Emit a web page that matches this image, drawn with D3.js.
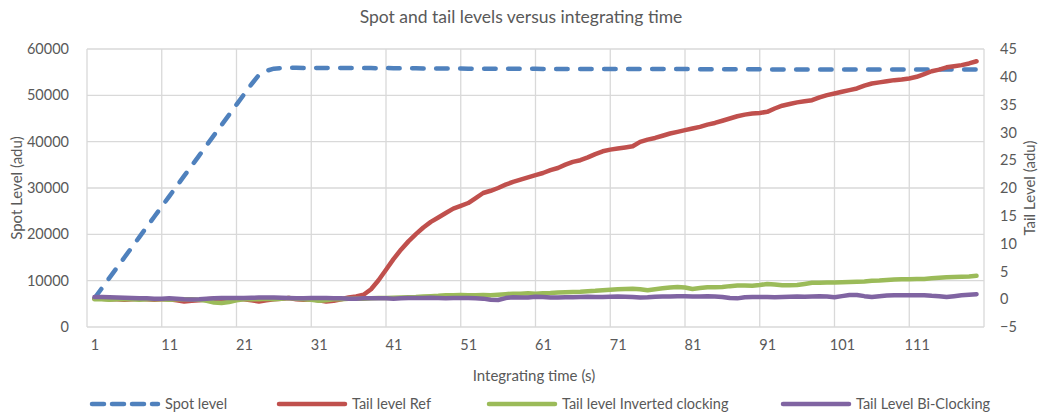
<!DOCTYPE html>
<html><head><meta charset="utf-8">
<script src="https://cdn.jsdelivr.net/npm/d3@7"></script>
<style>
html,body{margin:0;padding:0;background:#fff;}
svg text{font-family:Lato,"Open Sans",sans-serif;fill:#595959;}
</style></head>
<body><svg id="chart" width="1043" height="414"></svg>
<script>
// ---------- data ----------
const times = d3.range(1, 120); // categories 1..119 (s)
const xTickLabels = [1, 11, 21, 31, 41, 51, 61, 71, 81, 91, 101, 111];
const leftTicks = [0, 10000, 20000, 30000, 40000, 50000, 60000];
const rightTicks = [-5, 0, 5, 10, 15, 20, 25, 30, 35, 40, 45];

const spotLevel = [
  6200, 8400, 10600, 12800, 15000, 17200, 19400, 21600, 23800, 26000,
  28200, 30400, 32600, 34800, 37000, 39200, 41400, 43600, 45800, 48000,
  50200, 52400, 54400, 55300, 55750, 55900,
  55950, 55950, 55900, 55950, 55900, 55900, 55950, 55900, 55900, 55900, 55900, 55900,
  55850, 55900, 55850, 55850, 55850, 55850, 55800, 55800, 55800, 55800, 55800, 55800,
  55750, 55750, 55750, 55750, 55750, 55750, 55750, 55750, 55750, 55750,
  55700, 55700, 55700, 55700, 55700, 55700, 55700, 55700, 55700, 55700,
  55700, 55700, 55700, 55700, 55700, 55700, 55700, 55700, 55700, 55700,
  55650, 55650, 55650, 55650, 55650, 55650, 55650, 55650, 55650, 55650,
  55600, 55600, 55600, 55600, 55600, 55600, 55600, 55600, 55600, 55600,
  55600, 55600, 55600, 55600, 55600, 55600, 55600, 55600, 55600, 55600,
  55550, 55550, 55550, 55550, 55550, 55550, 55550, 55550, 55550
];
const tailRef = [
  0.1, 0.1, 0.0, 0.0, -0.1, 0.0, 0.1, 0.0, -0.1, 0.0,
  0.0, -0.2, -0.4, -0.3, -0.2, 0.0, 0.1, 0.0, 0.0, 0.1,
  0.0, -0.2, -0.4, -0.2, 0.0, 0.1, 0.2, 0.0, -0.1, 0.0,
  -0.2, -0.4, -0.3, 0.0, 0.3, 0.5,
  0.8, 1.8, 3.4, 5.3, 7.2, 8.9, 10.4, 11.7, 12.9, 13.9,
  14.7, 15.5, 16.3, 16.8, 17.3, 18.2, 19.1, 19.5, 20.0, 20.6,
  21.1, 21.5, 21.9, 22.3, 22.7, 23.2, 23.6, 24.2, 24.7, 25.0,
  25.5, 26.1, 26.6, 26.9, 27.1, 27.3, 27.5, 28.3, 28.7, 29.0,
  29.4, 29.8, 30.1, 30.4, 30.7, 31.0, 31.4, 31.7, 32.1, 32.5,
  32.9, 33.2, 33.4, 33.5, 33.7, 34.3, 34.8, 35.1, 35.4, 35.6,
  35.8, 36.3, 36.7, 37.0, 37.3, 37.6, 37.9, 38.4, 38.8, 39.0,
  39.2, 39.4, 39.5, 39.7, 40.0, 40.5, 41.0, 41.3, 41.7, 41.9,
  42.1, 42.4, 42.8
];
const tailInverted = [
  0.0, 0.0, -0.1, 0.0, 0.0, 0.0, -0.1, 0.0, 0.0, 0.0,
  -0.1, 0.0, 0.0, 0.0, -0.1, -0.3, -0.6, -0.7, -0.5, -0.2,
  0.0, 0.0, 0.0, 0.1, 0.0, 0.1, 0.2, 0.1, 0.0, -0.1,
  -0.3, -0.2, 0.0, 0.0, 0.1, 0.1,
  0.1, 0.15, 0.2, 0.2, 0.25, 0.3, 0.35, 0.4, 0.5, 0.55,
  0.6, 0.7, 0.7, 0.75, 0.7, 0.7, 0.75, 0.7, 0.8, 0.9,
  1.0, 1.0, 1.05, 1.0, 1.05, 1.1, 1.2, 1.25, 1.3, 1.35,
  1.45, 1.5, 1.6, 1.7, 1.8, 1.85, 1.9, 1.8, 1.6, 1.8,
  1.95, 2.1, 2.2, 2.1, 1.85, 2.0, 2.15, 2.15, 2.2, 2.35,
  2.45, 2.45, 2.4, 2.55, 2.75, 2.65, 2.5, 2.5, 2.55, 2.75,
  2.95, 2.95, 3.0, 3.0, 3.05, 3.1, 3.15, 3.2, 3.3, 3.35,
  3.45, 3.55, 3.6, 3.6, 3.65, 3.65, 3.75, 3.85, 3.95, 4.0,
  4.05, 4.1, 4.2
];
const tailBiClocking = [
  0.4, 0.4, 0.35, 0.3, 0.25, 0.2, 0.15, 0.15, 0.1, 0.1,
  0.15, 0.1, 0.0, -0.05, 0.0, 0.1, 0.15, 0.2, 0.2, 0.2,
  0.2, 0.25, 0.3, 0.3, 0.3, 0.25, 0.2, 0.15, 0.15, 0.2,
  0.2, 0.2, 0.15, 0.15, 0.1, 0.1, 0.15, 0.15, 0.15, 0.15,
  0.1, 0.15, 0.2, 0.2, 0.2, 0.25, 0.2, 0.15, 0.2, 0.2,
  0.2, 0.15, 0.1, -0.1, -0.15, 0.2, 0.35, 0.3, 0.3, 0.45,
  0.4, 0.3, 0.3, 0.35, 0.35, 0.4, 0.45, 0.4, 0.4, 0.45,
  0.5, 0.45, 0.4, 0.3, 0.35, 0.45, 0.5, 0.5, 0.55, 0.55,
  0.5, 0.5, 0.55, 0.5, 0.4, 0.2, 0.15, 0.35, 0.4, 0.4,
  0.4, 0.35, 0.4, 0.45, 0.5, 0.45, 0.5, 0.55, 0.5, 0.35,
  0.55, 0.75, 0.75, 0.55, 0.4, 0.55, 0.65, 0.7, 0.7, 0.7,
  0.7, 0.7, 0.6, 0.55, 0.4, 0.55, 0.7, 0.8, 0.9
];
const seriesNames = ["Spot level", "Tail level Ref", "Tail level Inverted clocking", "Tail Level Bi-Clocking"];
const seriesColors = ["#4F81BD", "#C0504D", "#9BBB59", "#8064A2"];

// ---------- layout ----------
const svg = d3.select("#chart");
const L = 87, R = 984, T = 49, B = 327;
const x = d3.scaleLinear().domain([0, 120]).range([L, R]);
const yL = d3.scaleLinear().domain([0, 60000]).range([B, T]);
const yR = d3.scaleLinear().domain([-5, 45]).range([B, T]);
const grid = "#D9D9D9";

// horizontal gridlines
svg.append("g").selectAll("line").data(leftTicks).join("line")
  .attr("x1", L).attr("x2", R).attr("y1", d => yL(d)).attr("y2", d => yL(d))
  .attr("stroke", grid).attr("stroke-width", 1.3);
// vertical gridlines (category boundaries every 10)
svg.append("g").selectAll("line").data(d3.range(0, 121, 10)).join("line")
  .attr("x1", d => x(d)).attr("x2", d => x(d)).attr("y1", T).attr("y2", B)
  .attr("stroke", grid).attr("stroke-width", 1.3);

// axes (text only)
const axL = svg.append("g").attr("transform", `translate(${L - 15},0)`)
  .call(d3.axisLeft(yL).tickValues(leftTicks).tickSize(0).tickFormat(d3.format("d")));
const axR = svg.append("g").attr("transform", `translate(${R + 16},0)`)
  .call(d3.axisRight(yR).tickValues(rightTicks).tickSize(0).tickFormat(d3.format("d")));
const axB = svg.append("g").attr("transform", `translate(0,${B + 10})`)
  .call(d3.axisBottom(x).tickValues(xTickLabels).tickSize(0).tickFormat(d3.format("d")));
[axL, axR, axB].forEach(g => {
  g.select(".domain").remove();
  g.selectAll("text").attr("font-size", 14.5).attr("fill", "#595959")
    .style("font-family", "Lato, 'Open Sans', sans-serif");
});
axR.selectAll("text").attr("x", 0);
axB.selectAll("text").attr("dy", "0.71em");

// lines
const lineL = d3.line().x((d, i) => x(times[i])).y(d => yL(d));
const lineR = d3.line().x((d, i) => x(times[i])).y(d => yR(d));
svg.append("path").datum(spotLevel).attr("d", lineL)
  .attr("fill", "none").attr("stroke", seriesColors[0]).attr("stroke-width", 4.5)
  .attr("stroke-dasharray", "11.5,12.5").attr("stroke-linecap", "round").attr("stroke-linejoin", "round");
[tailRef, tailInverted, tailBiClocking].forEach((s, k) => {
  svg.append("path").datum(s).attr("d", lineR)
    .attr("fill", "none").attr("stroke", seriesColors[k + 1]).attr("stroke-width", 4.5)
    .attr("stroke-linecap", "round").attr("stroke-linejoin", "round");
});

// titles
svg.append("text").attr("x", 521).attr("y", 23).attr("text-anchor", "middle")
  .attr("font-size", 17.5).text("Spot and tail levels versus integrating time");
svg.append("text").attr("x", 534).attr("y", 381).attr("text-anchor", "middle")
  .attr("font-size", 15).text("Integrating time (s)");
svg.append("text").attr("transform", `translate(22,${(T + B) / 2}) rotate(-90)`)
  .attr("text-anchor", "middle").attr("font-size", 15).text("Spot Level (adu)");
svg.append("text").attr("transform", `translate(1035,${(T + B) / 2}) rotate(-90)`)
  .attr("text-anchor", "middle").attr("font-size", 15).text("Tail Level (adu)");

// legend
const legX = [90, 277, 487, 781];
const leg = svg.append("g");
seriesNames.forEach((name, i) => {
  const g = leg.append("g").attr("transform", `translate(${legX[i]},404)`);
  const ln = g.append("line").attr("x1", 2).attr("x2", 68).attr("y1", 0).attr("y2", 0)
    .attr("stroke", seriesColors[i]).attr("stroke-width", 4.5).attr("stroke-linecap", "round");
  if (i === 0) ln.attr("stroke-dasharray", "12,8");
  g.append("text").attr("x", 75).attr("y", 0).attr("dy", "0.35em")
    .attr("font-size", 14.5).text(name);
});
</script></body></html>
